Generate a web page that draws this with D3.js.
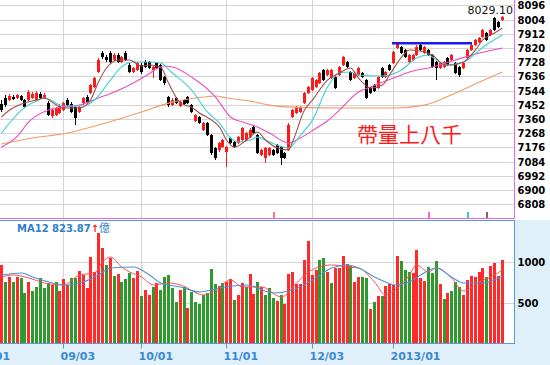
<!DOCTYPE html>
<html><head><meta charset="utf-8">
<script src="https://cdn.jsdelivr.net/npm/d3@7"></script>
<style>body{margin:0;background:#fff;}svg{display:block;}</style>
</head><body>
<svg id="c" width="550" height="365"></svg>
<script>
// ---------------- DATA ----------------
const opens = [
7457,7496,7483,7502,7496,7509,7483,7483,7496,7483,
7522,7496,7463,7379,7386,7399,7418,7483,7457,7437,
7405,7463,7502,7528,7567,7664,7787,7761,7787,7742,
7774,7729,7787,7710,7664,7677,7710,7729,7729,7677,
7722,7710,7632,7502,7450,7496,7444,7483,7502,7450,
7347,7373,7289,7334,7256,7172,7159,7178,7146,7237,
7211,7204,7224,7224,7243,7308,7256,7127,7107,7127,
7159,7191,7178,7140,7159,7373,7399,7405,7463,7528,
7548,7567,7593,7677,7645,7625,7632,7645,7710,7729,
7664,7625,7645,7658,7612,7561,7580,7561,7690,7632,
7710,7722,7820,7826,7807,7729,7742,7774,7839,7787,
7807,7774,7729,7690,7697,7755,7742,7722,7697,7690,
7755,7807,7839,7858,7891,7917,7904,8014,7988,8001];
const highs = [
7483,7515,7520,7515,7522,7515,7489,7548,7535,7541,
7535,7528,7476,7425,7437,7457,7470,7496,7470,7444,
7444,7502,7515,7587,7632,7755,7800,7774,7800,7787,
7787,7768,7800,7722,7697,7729,7722,7742,7735,7703,
7729,7716,7638,7509,7496,7502,7483,7489,7509,7457,
7392,7380,7340,7340,7263,7178,7211,7230,7185,7243,
7217,7250,7308,7276,7302,7321,7263,7166,7178,7178,
7166,7198,7185,7146,7334,7425,7444,7444,7535,7574,
7632,7619,7664,7684,7684,7684,7638,7703,7768,7735,
7671,7664,7697,7664,7619,7567,7587,7638,7697,7671,
7716,7800,7858,7833,7813,7781,7781,7839,7846,7833,
7813,7781,7735,7729,7735,7761,7781,7729,7703,7729,
7813,7846,7878,7891,7942,7923,7942,8020,7994,8029.10];
const lows = [
7405,7437,7476,7483,7489,7476,7431,7476,7489,7476,
7489,7489,7380,7366,7380,7392,7412,7444,7399,7321,
7399,7450,7463,7522,7561,7658,7748,7729,7722,7735,
7722,7722,7735,7658,7658,7671,7651,7690,7684,7625,
7684,7606,7580,7437,7444,7457,7437,7450,7457,7399,
7340,7327,7282,7250,7127,7094,7146,7172,7049,7198,
7172,7198,7217,7217,7237,7263,7133,7120,7075,7120,
7120,7133,7062,7101,7153,7366,7392,7399,7457,7522,
7541,7561,7587,7606,7638,7619,7554,7638,7703,7690,
7606,7619,7638,7625,7489,7522,7535,7554,7625,7625,
7671,7716,7813,7781,7755,7722,7735,7768,7800,7781,
7768,7690,7612,7684,7690,7703,7735,7651,7632,7684,
7748,7800,7833,7852,7884,7865,7897,7929,7949,7994];
const closes = [
7418,7450,7509,7489,7515,7483,7437,7535,7522,7528,
7496,7515,7386,7418,7431,7444,7463,7450,7405,7366,
7437,7496,7470,7580,7625,7742,7761,7742,7729,7774,
7729,7761,7742,7664,7690,7722,7664,7697,7690,7697,
7690,7612,7593,7450,7483,7463,7470,7457,7463,7405,
7386,7334,7334,7256,7140,7107,7204,7224,7178,7204,
7178,7243,7302,7269,7289,7269,7140,7159,7172,7172,
7127,7140,7107,7107,7321,7418,7437,7437,7528,7567,
7625,7612,7658,7612,7677,7677,7561,7697,7761,7697,
7612,7658,7690,7632,7496,7528,7541,7632,7632,7664,
7677,7794,7852,7787,7761,7774,7774,7826,7807,7826,
7774,7697,7690,7722,7729,7710,7774,7658,7645,7722,
7807,7839,7871,7884,7936,7871,7936,7936,7955,8020];
// volume (億)
const volumes = [
960,757,818,757,818,806,615,757,643,696,
798,676,737,716,757,643,785,716,806,798,
887,838,684,1062,879,1346,1172,960,1050,826,
846,757,785,858,798,887,582,655,594,696,
737,655,818,838,684,512,650,696,431,635,
513,481,594,615,911,725,708,737,757,785,
533,594,737,696,846,602,757,696,594,684,
562,521,594,481,846,871,725,725,1021,1253,
838,899,1021,1050,879,745,919,919,1074,968,
952,757,818,818,806,423,504,582,586,708,
725,716,1070,1009,895,879,858,1143,798,765,
932,858,1009,728,545,615,643,757,696,594,
777,826,818,879,919,818,952,989,830,1021];
const volUp = [
1,0,1,0,1,0,0,1,0,0,
0,0,0,1,0,1,1,1,0,0,
1,1,1,1,1,1,1,0,1,0,
1,0,0,0,1,1,0,1,1,0,
1,0,0,0,0,0,1,0,1,0,
0,0,0,0,0,0,1,0,1,1,
0,1,1,0,1,1,0,1,0,0,
0,1,0,1,1,1,1,1,1,1,
1,1,0,0,1,0,1,1,1,1,
0,1,1,0,0,1,0,1,0,1,
1,1,1,0,0,0,1,1,1,1,
0,0,0,1,0,1,0,0,0,1,
1,1,1,1,1,0,1,1,1,1];
// moving averages: [candle index, value]
const ma5 = [[0,7373],[2,7418],[5,7457],[9,7483],[11,7496],[14,7450],[16,7431],[20,7431],[23,7483],[25,7600],[27,7690],[30,7742],[33,7742],[36,7703],[38,7710],[41,7697],[43,7593],[46,7463],[49,7437],[51,7399],[54,7353],[56,7308],[58,7224],[60,7178],[63,7224],[66,7276],[68,7224],[71,7172],[74,7159],[75,7211],[78,7418],[80,7483],[84,7612],[87,7658],[90,7690],[92,7625],[95,7561],[98,7580],[100,7645],[103,7761],[105,7807],[109,7794],[111,7774],[114,7710],[116,7710],[119,7729],[122,7807],[124,7871],[127,7917],[129,7949]];
const ma10 = [[0,7269],[5,7418],[9,7476],[11,7496],[16,7444],[21,7444],[24,7483],[28,7612],[31,7697],[34,7729],[38,7729],[41,7722],[44,7658],[49,7548],[53,7405],[56,7334],[59,7237],[61,7211],[64,7224],[66,7243],[69,7211],[74,7172],[77,7256],[80,7353],[84,7567],[87,7658],[90,7664],[92,7645],[98,7638],[103,7677],[107,7755],[110,7774],[112,7742],[115,7710],[117,7716],[120,7742],[123,7807],[126,7858],[129,7904]];
const ma20 = [[0,7179],[4,7250],[7,7340],[12,7418],[16,7437],[20,7450],[25,7496],[29,7535],[33,7580],[37,7638],[42,7703],[44,7697],[49,7632],[55,7502],[59,7373],[62,7340],[66,7308],[69,7269],[74,7205],[77,7237],[81,7302],[84,7347],[87,7418],[92,7535],[95,7567],[101,7625],[105,7664],[111,7697],[117,7742],[123,7787],[129,7820]];
const ma60 = [[0,7198],[8,7237],[17,7269],[25,7321],[36,7405],[43,7463],[52,7502],[55,7509],[58,7496],[64,7476],[69,7450],[75,7437],[88,7431],[101,7431],[109,7450],[117,7528],[123,7599],[129,7664]];
const volMA5 = [[0,814],[3,838],[7,802],[11,741],[16,716],[20,838],[24,863],[26,997],[28,1058],[31,936],[33,875],[36,814],[39,716],[43,741],[46,716],[52,594],[55,655],[59,777],[62,692],[67,692],[72,570],[76,741],[79,875],[81,924],[85,960],[89,936],[92,924],[96,753],[99,594],[102,680],[105,838],[107,960],[110,875],[112,924],[116,802],[119,643],[123,753],[127,838],[129,899]];
const volMA12 = [[0,838],[5,863],[8,814],[13,741],[17,716],[21,753],[25,838],[28,924],[34,936],[38,838],[41,741],[46,692],[51,631],[56,680],[63,716],[70,619],[75,655],[80,777],[85,924],[89,960],[92,924],[96,814],[99,753],[101,716],[105,753],[108,838],[112,924],[116,814],[119,741],[124,741],[129,823.87]];
const priceTicks = [8096,8004,7912,7820,7728,7636,7544,7452,7360,7268,7176,7084,6992,6900,6808];
const volTicks = [500,1000];
const dateTickIdx = [-6,16,36,58,80,101];
const dateTickLabels = ["08/01","09/03","10/01","11/01","12/03","2013/01"];
const resistLevel = 7850, resistFrom = 101, resistTo = 121;
const markerIdx = [70,110,120,125];
const markerColors = ["#ff7a7a","#ff66cc","#33cccc","#a05a5a"];
const noteText = "帶量上八千";

// ---------------- LAYOUT ----------------
const svg = d3.select("#c");
const R = 514.5, TOPB = 218.5, VTOP = 220.5, VBOT = 343.5;
const x = d3.scaleLinear().domain([0,129]).range([1.2,501.8]).interpolate(d3.interpolateRound);
const yP = d3.scaleLinear().domain([8096,6808]).range([5.3,204.3]);
const yPr = yP.copy().interpolate(d3.interpolateRound);
const yV = d3.scaleLinear().domain([0,1000]).range([343.7,261.7]);
const yVr = yV.copy().interpolate(d3.interpolateRound);
const FONT = "'DejaVu Sans', Verdana, sans-serif";
const fmtInt = d3.format("d");

svg.append("rect").attr("x",0).attr("y",0).attr("width",550).attr("height",365).attr("fill","#fff");
svg.append("rect").attr("x",0).attr("y",220).attr("width",550).attr("height",145).attr("fill","#e0f0fb");
svg.append("rect").attr("x",-2).attr("y",VTOP).attr("width",R+2).attr("height",VBOT-VTOP).attr("fill","#fff");

const defs = svg.append("defs");
defs.append("clipPath").attr("id","cp").append("rect").attr("x",-2).attr("y",-2).attr("width",R+2).attr("height",TOPB+2);
defs.append("clipPath").attr("id","cv").append("rect").attr("x",-2).attr("y",VTOP).attr("width",R+2).attr("height",VBOT-VTOP);

const gridColor = "#d4d4d4";
svg.append("g").attr("transform",`translate(${R},0)`)
  .call(d3.axisLeft(yPr).tickValues(priceTicks).tickSize(R+2).tickFormat(""))
  .call(g=>{g.select(".domain").remove(); g.selectAll("line").attr("stroke",gridColor);});
svg.append("g").attr("transform",`translate(0,${TOPB})`)
  .call(d3.axisBottom(x).tickValues(dateTickIdx).tickSize(-TOPB-2).tickFormat(""))
  .call(g=>{g.select(".domain").remove(); g.selectAll("line").attr("stroke",gridColor);});
svg.append("g").attr("transform",`translate(${R},0)`)
  .call(d3.axisLeft(yVr).tickValues(volTicks).tickSize(R+2).tickFormat(""))
  .call(g=>{g.select(".domain").remove(); g.selectAll("line").attr("stroke",gridColor);});
svg.append("g").attr("transform",`translate(0,${VBOT})`)
  .call(d3.axisBottom(x).tickValues(dateTickIdx).tickSize(-(VBOT-VTOP)).tickFormat(""))
  .call(g=>{g.select(".domain").remove(); g.selectAll("line").attr("stroke",gridColor);});

const lineP = d3.line().x(d=>x(d[0])+0.5).y(d=>yP(d[1])).curve(d3.curveMonotoneX);
const lineV = d3.line().x(d=>x(d[0])+0.5).y(d=>yV(d[1])).curve(d3.curveMonotoneX);
const topG = svg.append("g").attr("clip-path","url(#cp)");
const maSeries = [[ma60,"#f39a64"],[ma20,"#ea4ec0"],[ma10,"#3fd0d8"],[ma5,"#a0504a"]];

const idx = d3.range(closes.length);
const cg = topG.append("g");
idx.forEach(i=>{
  const up = closes[i] >= opens[i];
  const col = up ? "#ff1a1a" : "#000";
  const cx = x(i);
  const yh = yPr(highs[i]), yl = yPr(lows[i]);
  cg.append("rect").attr("x",cx).attr("y",yh).attr("width",1).attr("height",Math.max(1,yl-yh)).attr("fill",col);
  const bt = yPr(Math.max(opens[i],closes[i])), bb = yPr(Math.min(opens[i],closes[i]));
  cg.append("rect").attr("x",cx-1).attr("y",bt).attr("width",3).attr("height",Math.max(1,bb-bt)).attr("fill",col);
});
maSeries.forEach(([d,c])=>{
  topG.append("path").datum(d).attr("d",lineP).attr("fill","none").attr("stroke",c).attr("stroke-width",1.1);
});
topG.append("line").attr("x1",x(resistFrom)-1).attr("x2",x(resistTo)+1)
  .attr("y1",yP(resistLevel)).attr("y2",yP(resistLevel))
  .attr("stroke","#1c1cf0").attr("stroke-width",2.6);
markerIdx.forEach((m,k)=>{
  topG.append("rect").attr("x",x(m)).attr("y",212).attr("width",2).attr("height",6).attr("fill",markerColors[k]);
});
svg.append("text").attr("x",513).attr("y",14).attr("text-anchor","end")
  .attr("font-family",FONT).attr("font-size",11).attr("fill","#111")
  .text(d3.format(".2f")(d3.max(highs)));
svg.append("text").attr("x",357).attr("y",142)
  .attr("font-family","'Noto Sans CJK TC','Noto Sans CJK SC',sans-serif").attr("font-size",21)
  .attr("fill","#ff1a1a").text(noteText);

svg.append("path").attr("d",`M${R},-2V${TOPB}H-2`).attr("fill","none").attr("stroke","#ee66ee").attr("stroke-width",1);

svg.append("g").attr("transform",`translate(${R},0)`)
  .call(d3.axisRight(yPr).tickValues(priceTicks).tickSize(0).tickPadding(3).tickFormat(fmtInt))
  .call(g=>{g.select(".domain").remove();
    g.selectAll("text").attr("font-family",FONT).attr("font-size",10).attr("font-weight","bold").attr("fill","#000");});

const vg = svg.append("g").attr("clip-path","url(#cv)");
idx.forEach(i=>{
  const yt = yVr(volumes[i]);
  vg.append("rect").attr("x",x(i)-1).attr("y",yt).attr("width",3).attr("height",343-yt)
    .attr("fill",volUp[i] ? "#ff2a2a" : "#2e9a2e");
});
vg.append("path").datum(volMA5).attr("d",lineV).attr("fill","none").attr("stroke","#ff5050").attr("stroke-width",1);
vg.append("path").datum(volMA12).attr("d",lineV).attr("fill","none").attr("stroke","#4a92d8").attr("stroke-width",1.1);

svg.append("rect").attr("x",-2).attr("y",VTOP).attr("width",R+2).attr("height",VBOT-VTOP)
  .attr("fill","none").attr("stroke","#5b9bd5");

svg.append("g").attr("transform",`translate(${R},0)`)
  .call(d3.axisRight(yVr).tickValues(volTicks).tickSize(0).tickPadding(3).tickFormat(fmtInt))
  .call(g=>{g.select(".domain").remove();
    g.selectAll("text").attr("font-family",FONT).attr("font-size",10).attr("font-weight","bold").attr("fill","#000");});

const lbl = svg.append("text").attr("x",17).attr("y",231.5).attr("font-family",FONT)
  .attr("font-size",10).attr("font-weight","bold").attr("fill","#2f7fc8");
lbl.append("tspan").text("MA12 " + d3.format(".2f")(volMA12[volMA12.length-1][1]));
lbl.append("tspan").attr("fill","#ff1a1a").text("↑");
lbl.append("tspan").attr("font-family","'Noto Sans CJK TC',sans-serif").attr("font-weight","normal").attr("font-size",11).text("億");

svg.append("g").attr("transform",`translate(0,${VBOT})`)
  .call(d3.axisBottom(x).tickValues(dateTickIdx).tickSize(5).tickFormat((d,i)=>dateTickLabels[i]))
  .call(g=>{g.select(".domain").remove();
    g.selectAll("line").attr("stroke","#5a9bd5");
    g.selectAll("text").attr("x",-3).attr("y",9).attr("text-anchor","start")
      .attr("font-family",FONT).attr("font-size",11).attr("font-weight","bold").attr("fill","#3a8ad2");});
</script>
</body></html>
